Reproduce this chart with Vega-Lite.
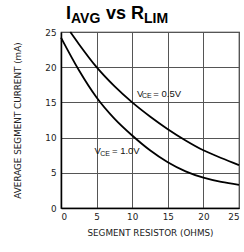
{
  "$schema": "https://vega.github.io/schema/vega-lite/v6.json",
  "autosize": {"type": "none"},
  "padding": {"left": 61, "top": 32, "right": 5, "bottom": 44},
  "width": 178,
  "height": 176,
  "background": "white",
  "config": {
    "view": {"stroke": "#222", "strokeWidth": 1.2},
    "axis": {
      "labelFont": "DejaVu Sans",
      "labelFontSize": 8.8,
      "labelColor": "#222",
      "titleFont": "DejaVu Sans",
      "titleFontSize": 8.8,
      "titleFontWeight": "normal",
      "titleColor": "#222",
      "gridColor": "#555",
      "gridOpacity": 1,
      "gridWidth": 1,
      "ticks": false,
      "domainColor": "#000",
      "domainWidth": 1.5
    }
  },
  "datasets": {
    "curves": [
      {"series": "0.5V", "r": 1.3, "i": 25},
      {"series": "0.5V", "r": 2.5, "i": 23.3},
      {"series": "0.5V", "r": 5, "i": 20},
      {"series": "0.5V", "r": 7.5, "i": 17.3},
      {"series": "0.5V", "r": 10, "i": 15},
      {"series": "0.5V", "r": 12.5, "i": 13},
      {"series": "0.5V", "r": 15, "i": 11.2},
      {"series": "0.5V", "r": 17.5, "i": 9.6},
      {"series": "0.5V", "r": 20, "i": 8.2},
      {"series": "0.5V", "r": 22.5, "i": 7.1},
      {"series": "0.5V", "r": 25, "i": 6.1},
      {"series": "1.0V", "r": 0, "i": 24.2},
      {"series": "1.0V", "r": 2.5, "i": 19.6},
      {"series": "1.0V", "r": 5, "i": 15.7},
      {"series": "1.0V", "r": 7.5, "i": 12.7},
      {"series": "1.0V", "r": 10, "i": 10.3},
      {"series": "1.0V", "r": 12.5, "i": 8.2},
      {"series": "1.0V", "r": 15, "i": 6.5},
      {"series": "1.0V", "r": 17.5, "i": 5.2},
      {"series": "1.0V", "r": 20, "i": 4.3},
      {"series": "1.0V", "r": 22.5, "i": 3.7},
      {"series": "1.0V", "r": 25, "i": 3.3}
    ],
    "titleBig": [
      {"t": "I", "r": 0.7, "i": 26.8},
      {"t": "vs", "r": 6.32, "i": 26.8},
      {"t": "R", "r": 9.83, "i": 26.8}
    ],
    "titleSub": [
      {"t": "AVG", "r": 1.4, "i": 26.3},
      {"t": "LIM", "r": 11.66, "i": 26.3}
    ],
    "labMain": [
      {"t": "V", "r": 10.66, "i": 15.8},
      {"t": "= 0.5V", "r": 12.96, "i": 15.8},
      {"t": "V", "r": 4.71, "i": 7.67},
      {"t": "= 1.0V", "r": 7.16, "i": 7.67}
    ],
    "labSub": [
      {"t": "CE", "r": 11.36, "i": 15.58},
      {"t": "CE", "r": 5.52, "i": 7.39}
    ]
  },
  "encoding": {
    "x": {
      "field": "r", "type": "quantitative",
      "scale": {"domain": [0, 25], "nice": false, "zero": false},
      "axis": {"values": [0, 5, 10, 15, 20, 25], "title": "SEGMENT RESISTOR (OHMS)", "labelPadding": 4, "titlePadding": 8}
    },
    "y": {
      "field": "i", "type": "quantitative",
      "scale": {"domain": [0, 25], "nice": false, "zero": false},
      "axis": {"values": [0, 5, 10, 15, 20, 25], "title": "AVERAGE SEGMENT CURRENT (mA)", "labelPadding": 5, "titlePadding": 22}
    }
  },
  "layer": [
    {
      "data": {"name": "curves"},
      "mark": {"type": "line", "interpolate": "monotone", "color": "#000", "strokeWidth": 1.8},
      "encoding": {"detail": {"field": "series"}}
    },
    {
      "data": {"name": "titleBig"},
      "mark": {"type": "text", "font": "Liberation Sans", "fontWeight": "bold", "fontSize": 18, "align": "left", "baseline": "alphabetic", "color": "#000"},
      "encoding": {"text": {"field": "t"}}
    },
    {
      "data": {"name": "titleSub"},
      "mark": {"type": "text", "font": "Liberation Sans", "fontWeight": "bold", "fontSize": 14, "align": "left", "baseline": "alphabetic", "color": "#000"},
      "encoding": {"text": {"field": "t"}}
    },
    {
      "data": {"name": "labMain"},
      "mark": {"type": "text", "font": "Liberation Sans", "fontSize": 9.5, "align": "left", "baseline": "alphabetic", "color": "#111"},
      "encoding": {"text": {"field": "t"}}
    },
    {
      "data": {"name": "labSub"},
      "mark": {"type": "text", "font": "Liberation Sans", "fontSize": 7, "align": "left", "baseline": "alphabetic", "color": "#111"},
      "encoding": {"text": {"field": "t"}}
    }
  ]
}
